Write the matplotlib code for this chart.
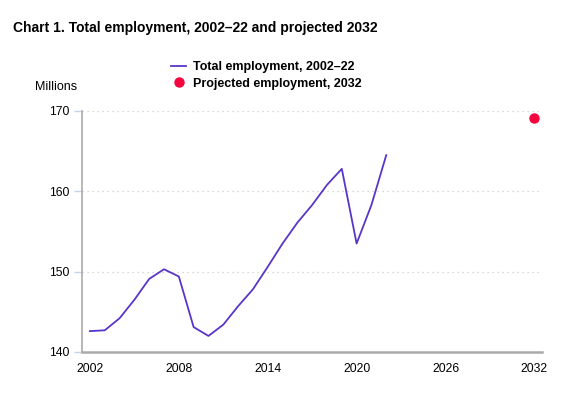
import numpy as np
import matplotlib.pyplot as plt

plt.rcParams['font.family'] = ['Liberation Sans', 'DejaVu Sans']

years = [2002, 2003, 2004, 2005, 2006, 2007, 2008, 2009, 2010, 2011, 2012,
         2013, 2014, 2015, 2016, 2017, 2018, 2019, 2020, 2021, 2022]
employment = [142.6, 142.7, 144.2, 146.5, 149.1, 150.3, 149.4, 143.1, 142.0,
              143.4, 145.7, 147.8, 150.6, 153.5, 156.1, 158.3, 160.8, 162.8,
              153.5, 158.3, 164.5]
proj_year = [2032]
proj_value = [169.1]

xticks = [2002, 2008, 2014, 2020, 2026, 2032]
yticks = [140, 150, 160, 170]

fig = plt.figure(figsize=(5.77, 3.94), dpi=100)
ax = fig.add_axes([0.142, 0.1066, 0.797, 0.6117])

ax.plot(years, employment, color='#5a35c8', lw=1.3, label='Total employment, 2002\u201322')
ax.plot(proj_year, proj_value, 'o', color='#f5053f', ms=6.5, ls='none',
        label='Projected employment, 2032')

ax.set_xlim(2001.46, 2032.5)
ax.set_ylim(140, 170)
ax.set_xticks(xticks)
ax.set_yticks(yticks)
ax.tick_params(axis='x', length=0, pad=8, labelsize=8.7)
ax.tick_params(axis='y', length=6, color='#c5d5ea', width=1, pad=3, labelsize=8.7)

for y in yticks[1:]:
    ax.axhline(y, color='#cccccc', lw=0.9, ls=(0, (1, 3)), zorder=0)

for s in ['top', 'right']:
    ax.spines[s].set_visible(False)
ax.spines['left'].set_color('#aaaaaa')
ax.spines['bottom'].set_color('#aaaaaa')
ax.spines['left'].set_linewidth(1.2)
ax.spines['bottom'].set_linewidth(1.8)

fig.text(0.0225, 0.93, 'Chart 1. Total employment, 2002\u201322 and projected 2032',
         fontsize=10, fontweight='bold', va='center')
fig.text(0.061, 0.78, 'Millions', fontsize=9, va='center')

leg = ax.legend(loc='upper left', bbox_to_anchor=(0.286, 0.86),
                bbox_transform=fig.transFigure, frameon=False,
                handlelength=1.2, handletextpad=0.5, borderpad=0,
                labelspacing=0.35, prop={'weight': 'bold', 'size': 9})

fig.savefig('out.png', dpi=100)
